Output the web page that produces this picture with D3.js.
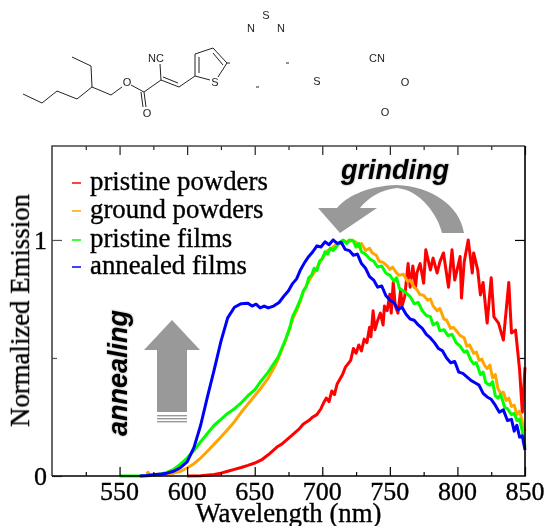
<!DOCTYPE html>
<html>
<head>
<meta charset="utf-8">
<script src="https://cdn.jsdelivr.net/npm/d3@7"></script>
<style>
html, body { margin: 0; padding: 0; background: #fff; overflow: hidden; }
svg { display: block; }
text { font-family: "Liberation Serif", serif; fill: #000; }
.soft { filter: blur(0.35px); }
.heavy text, text.heavy { stroke: #000; stroke-width: 0.35px; }
.tag { font-family: "Liberation Sans", sans-serif; font-weight: bold; font-style: italic; font-size: 27px; }
.atom { font-family: "Liberation Sans", sans-serif; font-size: 11px; fill: #222; text-anchor: middle; }
</style>
</head>
<body>
<svg id="chart" width="546" height="526"></svg>
<script>
// values: [wavelength nm, normalized emission]
var pristinePowders = [[600,0],[610,.001],[620,.006],[625,.012],[630,.02],[635,.028],[640,.036],[645,.045],[650,.055],[655,.068],[660,.09],[665,.115],[667,.125],[670,.135],[673,.15],[676,.165],[680,.185],[683,.2],[686,.22],[690,.235],[693,.25],[696,.26],[699,.285],[701,.31],[703,.33],[705,.315],[707,.36],[709,.345],[711,.39],[713,.41],[715,.43],[717,.46],[719,.475],[721,.49],[723,.54],[725,.52],[727,.555],[729,.53],[731,.58],[733,.565],[735,.63],[736,.59],[737.6,.7],[739,.62],[741,.66],[743,.69],[745,.64],[746,.72],[748,.7],[750,.77],[751,.69],[752.5,.82],[754,.72],[756,.69],[758,.79],[759,.72],[761,.76],[763.5,.9],[765,.8],[767,.89],[769,.8],[770,.86],[772.4,.9],[775,.817],[776.6,.958],[780,.873],[782,.923],[785,.86],[787,.907],[789.7,.945],[793.4,.8],[796,.958],[798,.83],[802,.93],[803,.754],[805,.907],[808,1],[811,.86],[812,.945],[815,.873],[817,.767],[819,.82],[822,.648],[825,.84],[827,.674],[830.4,.648],[834,.576],[838,.82],[840,.606],[843,.618],[846,.45],[848,.27],[850,.46]];
var groundPowders = [[570,.008],[571,.016],[572,.006],[575,.002],[580,.004],[585,.008],[590,.012],[595,.02],[600,.034],[605,.052],[610,.076],[615,.105],[620,.135],[625,.165],[630,.197],[635,.23],[640,.27],[645,.305],[650,.34],[655,.375],[660,.415],[664,.455],[667,.49],[670,.535],[673,.578],[676,.625],[678,.665],[681,.7],[684,.745],[686,.78],[689,.815],[692,.845],[695,.87],[698,.905],[701,.93],[704,.955],[707,.965],[710,.98],[713,.985],[716,.995],[719,.99],[722,1],[725,.99],[727,.97],[729,.985],[732,.955],[735,.965],[737,.945],[740,.935],[742,.91],[745,.905],[748,.89],[750,.875],[752,.885],[755,.86],[757,.85],[760,.855],[763,.825],[765,.83],[768,.8],[770,.79],[772,.77],[775,.765],[778,.745],[780,.75],[782,.72],[785,.7],[787,.71],[790,.665],[792,.66],[795,.625],[797,.63],[800,.61],[802,.595],[805,.585],[807,.55],[809,.555],[812,.52],[814,.525],[816,.49],[818,.495],[820,.47],[822,.455],[824,.47],[826,.415],[828,.43],[830,.37],[832,.35],[834,.355],[836,.32],[838,.33],[840,.295],[842,.3],[844,.26],[846,.275],[848,.23],[850,.19]];
var pristineFilms = [[550,0],[560,0],[570,0],[575,.003],[580,.008],[585,.015],[590,.028],[595,.05],[600,.076],[605,.108],[610,.145],[615,.18],[620,.215],[625,.24],[630,.265],[635,.285],[640,.31],[645,.34],[650,.365],[655,.405],[660,.44],[664,.475],[667,.5],[670,.54],[673,.58],[676,.63],[678,.675],[681,.71],[684,.75],[686,.785],[688,.8],[690,.84],[692,.85],[694,.88],[696,.87],[698,.91],[700,.92],[702,.95],[704,.94],[706,.965],[708,.955],[711,.975],[713,.99],[715.5,1],[718,.985],[720,1],[723,.995],[725,.97],[727,.985],[729,.95],[732,.94],[735,.92],[738,.91],[741,.885],[744,.89],[747,.86],[750,.85],[753,.825],[755,.84],[757,.795],[760,.785],[763,.77],[765,.76],[768,.73],[771,.735],[774,.7],[777,.68],[780,.675],[782,.64],[785,.65],[787,.615],[790,.62],[793,.595],[796,.6],[799,.565],[802,.55],[805,.525],[807,.53],[810,.49],[812,.475],[814,.48],[817,.43],[819,.44],[821,.395],[824,.385],[826,.4],[828,.34],[830,.33],[832,.345],[835,.29],[837,.285],[840,.26],[842,.265],[844,.235],[846,.24],[848,.19],[850,.12]];
var annealedFilms = [[565,0],[570,.002],[575,.005],[580,.008],[585,.012],[590,.02],[595,.035],[600,.06],[605,.12],[610,.215],[615,.335],[620,.45],[625,.57],[630,.67],[635,.715],[640,.73],[645,.732],[648,.72],[651,.728],[654,.712],[657,.72],[660,.712],[664,.72],[668,.735],[672,.765],[675,.785],[678,.815],[681,.835],[684,.875],[687,.905],[690,.93],[693,.95],[696,.975],[699,.97],[702,.992],[705,.98],[708,1],[711,.985],[714,.99],[717,.96],[720,.955],[723,.935],[726,.94],[729,.9],[732,.88],[735,.845],[738,.83],[741,.8],[744,.805],[747,.765],[750,.745],[753,.735],[756,.705],[759,.715],[762,.685],[765,.665],[768,.66],[771,.64],[774,.625],[777,.6],[780,.585],[783,.565],[786,.54],[789,.53],[792,.5],[795,.48],[798,.485],[801,.44],[804,.435],[807,.42],[810,.405],[813,.395],[816,.385],[819,.35],[822,.335],[825,.325],[828,.3],[831,.27],[834,.28],[837,.235],[840,.24],[842,.19],[844,.215],[846,.165],[848,.17],[850,.11]];

var seriesNames = ["pristine powders", "ground powders", "pristine films", "annealed films"];
var seriesColors = ["#ff0000", "#ffa500", "#00ff00", "#0000ff"];
var seriesData = [pristinePowders, groundPowders, pristineFilms, annealedFilms];

var xMajor = [550, 600, 650, 700, 750, 800, 850];
var xMinor = [525, 575, 625, 675, 725, 775, 825];

var svg = d3.select("#chart");
var plotLeft = 52, plotRight = 525, plotTop = 146, plotBottom = 476;

var x = d3.scaleLinear().domain([500, 850]).range([plotLeft, plotRight]);
var y = d3.scaleLinear().domain([0, 1.398]).range([plotBottom, plotTop]);

// curves
var line = d3.line().x(function(d) { return x(d[0]); }).y(function(d) { return y(d[1]); });
svg.append("g").attr("class", "soft").selectAll("path")
    .data(seriesData)
    .enter().append("path")
    .attr("d", line)
    .attr("fill", "none")
    .attr("stroke", function(d, i) { return seriesColors[i]; })
    .attr("stroke-width", 3)
    .attr("stroke-linejoin", "round");

// frame and ticks
function ticks(g, stroke) {
    g.selectAll(".domain").remove();
    g.selectAll("line").attr("stroke", stroke).attr("stroke-width", 1.2);
    g.selectAll("text").remove();
}
svg.append("g").attr("transform", "translate(0," + plotBottom + ")")
    .call(d3.axisBottom(x).tickValues(xMajor).tickSize(-9)).call(ticks, "#000");
svg.append("g").attr("transform", "translate(0," + plotBottom + ")")
    .call(d3.axisBottom(x).tickValues(xMinor).tickSize(-4)).call(ticks, "#000");
svg.append("g").attr("transform", "translate(0," + plotTop + ")")
    .call(d3.axisTop(x).tickValues(xMajor).tickSize(-9)).call(ticks, "#222");
svg.append("g").attr("transform", "translate(0," + plotTop + ")")
    .call(d3.axisTop(x).tickValues(xMinor).tickSize(-4)).call(ticks, "#222");
svg.append("g").attr("transform", "translate(" + plotLeft + ",0)")
    .call(d3.axisLeft(y).tickValues([0, 1]).tickSize(-10)).call(ticks, "#555");
svg.append("g").attr("transform", "translate(" + plotLeft + ",0)")
    .call(d3.axisLeft(y).tickValues([0.5]).tickSize(-5)).call(ticks, "#555");
svg.append("g").attr("transform", "translate(" + plotRight + ",0)")
    .call(d3.axisRight(y).tickValues([1]).tickSize(-10)).call(ticks, "#000");
svg.append("g").attr("transform", "translate(" + plotRight + ",0)")
    .call(d3.axisRight(y).tickValues([0.5]).tickSize(-5)).call(ticks, "#000");

svg.append("path")
    .attr("d", "M" + plotLeft + "," + plotBottom + "V" + plotTop + "H" + plotRight)
    .attr("fill", "none").attr("stroke", "#444").attr("stroke-width", 1.6);
svg.append("path")
    .attr("d", "M" + plotLeft + "," + plotBottom + "H" + plotRight + "V" + plotTop)
    .attr("fill", "none").attr("stroke", "#000").attr("stroke-width", 1.6);

// tick labels
var labels = svg.append("g").attr("class", "soft heavy");
labels.selectAll(".xl").data(xMajor).enter().append("text")
    .attr("x", function(d) { return x(d); })
    .attr("y", 500)
    .attr("text-anchor", "middle")
    .attr("font-size", 26)
    .text(function(d) { return d; });
labels.selectAll(".yl").data([0, 1]).enter().append("text")
    .attr("x", 47)
    .attr("y", function(d) { return y(d) + 9; })
    .attr("text-anchor", "end")
    .attr("font-size", 26)
    .text(function(d) { return d; });

// axis titles
labels.append("text").attr("x", 288.5).attr("y", 522)
    .attr("text-anchor", "middle").attr("font-size", 26.8).text("Wavelength (nm)");
labels.append("text").attr("transform", "translate(29,310.5) rotate(-90)")
    .attr("text-anchor", "middle").attr("font-size", 26.8).text("Normalized Emission");

// legend
var legendY = [183, 211, 240, 267];
var legend = svg.append("g").selectAll("g").data(seriesNames).enter().append("g")
    .attr("transform", function(d, i) { return "translate(0," + legendY[i] + ")"; });
legend.append("line").attr("x1", 72).attr("x2", 81)
    .attr("stroke", function(d, i) { return seriesColors[i]; }).attr("stroke-width", 1.5);
legend.append("text").attr("class", "soft heavy").attr("x", 90).attr("y", 7)
    .attr("font-size", 26.8).text(function(d) { return d; });

// grey process arrows
var arrows = svg.append("g").attr("class", "soft").attr("fill", "#999");
arrows.append("path").attr("d", "M172,320L200,350H187V412H157V350H144Z");
[415, 418, 421].forEach(function(s) {
    arrows.append("rect").attr("x", 157).attr("y", s).attr("width", 30).attr("height", 1.4);
});
arrows.append("path").attr("d", "M340,233L318,208H337C345,198 365,186 397,185C430,186 460,205 464,233H442C438,215 420,190 397,188C380,190 368,198 360,208H377Z");

svg.append("text").attr("class", "tag").attr("x", 341).attr("y", 179).text("grinding")
    .style("filter", "drop-shadow(0.5px 0.5px 1px #999)");
svg.append("text").attr("class", "tag").attr("transform", "translate(127,436) rotate(-90)").text("annealing")
    .style("filter", "drop-shadow(0.5px 0.5px 1px #999)");

// molecule sketch above the plot
var bonds = [
    [[23,94],[42,103],[57,91],[77,99],[92,87],[111,95],[122,87]],
    [[92,87],[91,66],[72,57]],
    [[131,85],[144,92],[161,80],[179,87],[195,76]],
    [[144,92],[146,107]], [[141,92],[143,107]],
    [[161,80],[160,64]],
    [[163,77],[178,83]],
    [[195,76],[195,54],[213,48],[227,63],[218,77]],
    [[195,76],[210,80]],
    [[199,73],[199,57]], [[213,53],[223,65]],
    [[227,63],[230,63]], [[286,63],[289,63]], [[256,87],[259,87]]
];
var atoms = [
    ["O", 127, 86], ["O", 147, 117], ["NC", 156, 62], ["S", 215, 86],
    ["N", 251, 32], ["S", 266, 19], ["N", 281, 32], ["S", 317, 85],
    ["CN", 377, 62], ["O", 405, 86], ["O", 385, 116]
];
var mol = svg.append("g").attr("class", "soft");
mol.selectAll("path").data(bonds).enter().append("path")
    .attr("d", d3.line())
    .attr("fill", "none").attr("stroke", "#222").attr("stroke-width", 1);
mol.selectAll("text").data(atoms).enter().append("text")
    .attr("class", "atom")
    .attr("x", function(d) { return d[1]; })
    .attr("y", function(d) { return d[2]; })
    .text(function(d) { return d[0]; });
</script>
</body>
</html>
